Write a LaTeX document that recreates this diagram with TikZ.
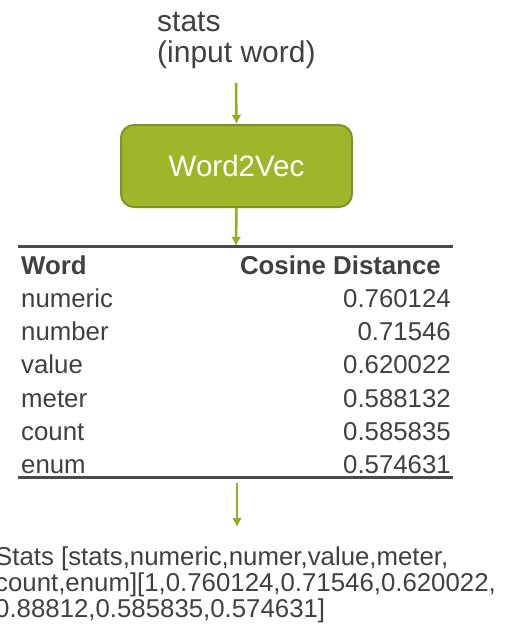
\documentclass[tikz,border=0pt]{standalone}
\usepackage{fontspec}
\setmainfont{Liberation Sans}
\usetikzlibrary{positioning, arrows.meta}

\definecolor{wvgreen}{HTML}{A0B62A}
\definecolor{wvborder}{HTML}{7E9321}
\definecolor{wvarrow}{HTML}{94AE22}
\definecolor{wvtext}{HTML}{404040}

\tikzset{
    flow/.style={draw=wvarrow, line width=2.5pt, -{Latex[length=9pt,width=10pt]}},
    rule/.style={draw=wvtext!95, line width=3pt},
    cell/.style={inner sep=0pt, text=wvtext, font=\fontsize{25.8}{26}\selectfont},
}

\begin{document}
\begin{tikzpicture}[x=1pt, y=-1pt]
        \useasboundingbox (0,0) rectangle (506,626);

        % input word
        \node[cell, anchor=base west, align=left, font=\fontsize{30}{31}\selectfont] (input) at (157,63)
            {stats\\(input word)};
        \coordinate (inputfoot) at (236,83);

        % the model
        \node[draw=wvborder, line width=2pt, fill=wvgreen, rounded corners=13pt,
              minimum width=231pt, minimum height=82pt, text=white,
              font=\fontsize{29.5}{30}\selectfont] (model) at (236.5,166) {Word2Vec};

        % the table
        \coordinate (topleft) at (18,246);
        \coordinate (topright) at (453,246);
        \coordinate (botleft) at (18,477);
        \coordinate (botright) at (453,477);
        \draw[rule] (topleft) -- (topright);
        \draw[rule] (botleft) -- (botright);
        \coordinate (tabletop) at (236,246);
        \coordinate (tablefoot) at (237,483);

        \node[cell, anchor=base west, font=\bfseries\fontsize{25.8}{26}\selectfont] (hword) at (21,274) {Word};
        \node[cell, anchor=base east, font=\bfseries\fontsize{25.8}{26}\selectfont] (hdist) at (441,274) {Cosine Distance};

        \foreach \w/\d [count=\i] in {numeric/0.760124, number/0.71546, value/0.620022,
                                      meter/0.588132, count/0.585835, enum/0.574631}
        {
            \node[cell, anchor=base west] (w\i) at (21,274+33.3*\i) {\w};
            \node[cell, anchor=base east] (d\i) at (451,274+33.3*\i) {\d};
        }

        % result
        \node[cell, anchor=base west, align=left] (result) at (-5,617)
            {Stats [stats,numeric,numer,value,meter,\\[0.5pt]
             count,enum][1,0.760124,0.71546,0.620022,\\[-0.5pt]
             0.88812,0.585835,0.574631]};
        \coordinate (resulttop) at (237,527);

        % arrows
        \draw[flow] (inputfoot) -- (model.north);
        \draw[flow] (model.south) -- (tabletop);
        \draw[flow] (tablefoot) -- (resulttop);
\end{tikzpicture}
\end{document}
